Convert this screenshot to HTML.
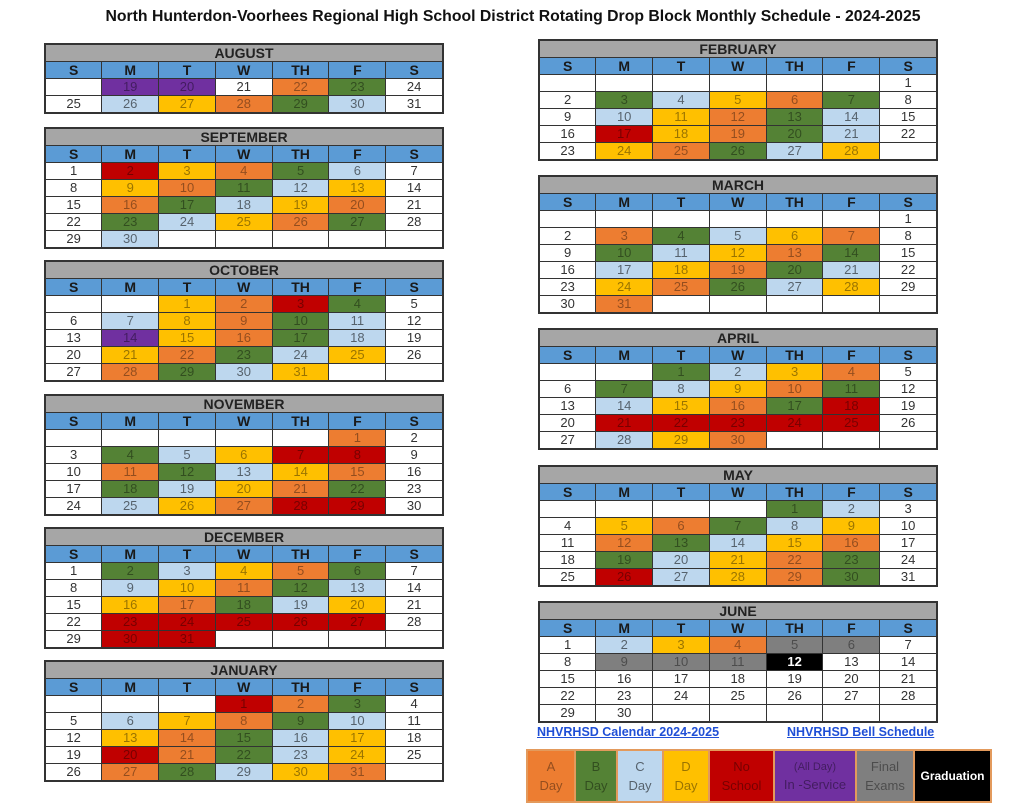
<!DOCTYPE html>
<html><head><meta charset="utf-8"><style>
body{margin:0;width:1014px;height:808px;background:#fff;position:relative;overflow:hidden;font-family:"Liberation Sans",Arial,sans-serif}
.t{position:absolute;border-collapse:collapse;table-layout:fixed;width:400px;border:2px solid #333}
.t td{border:1px solid #333;height:16px;padding:0;line-height:16px;text-align:center;font-size:13px;color:#333;width:57px;overflow:hidden}
.t tr.m td{background:#a6a6a6;font-weight:bold;font-size:14px;color:#222}
.t tr.h td{background:#5b9bd5;font-weight:bold;font-size:14px;color:#1a1a1a}
.a{background:#ed7d31!important;color:rgba(0,0,0,.38)!important}
.b{background:#548235!important;color:rgba(0,0,0,.4)!important}
.c{background:#bdd7ee!important;color:rgba(0,0,0,.55)!important}
.d{background:#ffc000!important;color:rgba(0,0,0,.4)!important}
.n{background:#c00000!important;color:rgba(0,0,0,.38)!important}
.p{background:#7030a0!important;color:rgba(0,0,0,.4)!important}
.f{background:#7f7f7f!important;color:rgba(0,0,0,.4)!important}
.g{background:#000!important;color:#fff!important;font-weight:bold}
.L{left:44px}.R{left:538px}
h1{position:absolute;top:8px;left:6px;width:1014px;margin:0;text-align:center;font-size:15.8px;font-weight:bold;color:#111}
.lk{position:absolute;top:725px;font-size:12.5px;font-weight:bold;color:#1f4fd6;text-decoration:underline}
.lg{position:absolute;left:526px;top:749px;width:462px;height:50px;border:2px solid #e39a5c;display:flex}
.lg div{height:50px;display:flex;align-items:center;justify-content:center;text-align:center;font-size:13px;line-height:19px;border-right:2px solid #e39a5c;box-sizing:border-box}
</style></head><body>
<h1>North Hunterdon-Voorhees Regional High School District Rotating Drop Block Monthly Schedule - 2024-2025</h1>

<table class="t L" style="top:43px"><tr class="m"><td colspan="7">AUGUST</td></tr><tr class="h"><td>S</td><td>M</td><td>T</td><td>W</td><td>TH</td><td>F</td><td>S</td></tr>
<tr><td></td><td class="p">19</td><td class="p">20</td><td>21</td><td class="a">22</td><td class="b">23</td><td>24</td></tr>
<tr><td>25</td><td class="c">26</td><td class="d">27</td><td class="a">28</td><td class="b">29</td><td class="c">30</td><td>31</td></tr></table>

<table class="t L" style="top:127px"><tr class="m"><td colspan="7">SEPTEMBER</td></tr><tr class="h"><td>S</td><td>M</td><td>T</td><td>W</td><td>TH</td><td>F</td><td>S</td></tr>
<tr><td>1</td><td class="n">2</td><td class="d">3</td><td class="a">4</td><td class="b">5</td><td class="c">6</td><td>7</td></tr>
<tr><td>8</td><td class="d">9</td><td class="a">10</td><td class="b">11</td><td class="c">12</td><td class="d">13</td><td>14</td></tr>
<tr><td>15</td><td class="a">16</td><td class="b">17</td><td class="c">18</td><td class="d">19</td><td class="a">20</td><td>21</td></tr>
<tr><td>22</td><td class="b">23</td><td class="c">24</td><td class="d">25</td><td class="a">26</td><td class="b">27</td><td>28</td></tr>
<tr><td>29</td><td class="c">30</td><td></td><td></td><td></td><td></td><td></td></tr></table>

<table class="t L" style="top:260px"><tr class="m"><td colspan="7">OCTOBER</td></tr><tr class="h"><td>S</td><td>M</td><td>T</td><td>W</td><td>TH</td><td>F</td><td>S</td></tr>
<tr><td></td><td></td><td class="d">1</td><td class="a">2</td><td class="n">3</td><td class="b">4</td><td>5</td></tr>
<tr><td>6</td><td class="c">7</td><td class="d">8</td><td class="a">9</td><td class="b">10</td><td class="c">11</td><td>12</td></tr>
<tr><td>13</td><td class="p">14</td><td class="d">15</td><td class="a">16</td><td class="b">17</td><td class="c">18</td><td>19</td></tr>
<tr><td>20</td><td class="d">21</td><td class="a">22</td><td class="b">23</td><td class="c">24</td><td class="d">25</td><td>26</td></tr>
<tr><td>27</td><td class="a">28</td><td class="b">29</td><td class="c">30</td><td class="d">31</td><td></td><td></td></tr></table>

<table class="t L" style="top:394px"><tr class="m"><td colspan="7">NOVEMBER</td></tr><tr class="h"><td>S</td><td>M</td><td>T</td><td>W</td><td>TH</td><td>F</td><td>S</td></tr>
<tr><td></td><td></td><td></td><td></td><td></td><td class="a">1</td><td>2</td></tr>
<tr><td>3</td><td class="b">4</td><td class="c">5</td><td class="d">6</td><td class="n">7</td><td class="n">8</td><td>9</td></tr>
<tr><td>10</td><td class="a">11</td><td class="b">12</td><td class="c">13</td><td class="d">14</td><td class="a">15</td><td>16</td></tr>
<tr><td>17</td><td class="b">18</td><td class="c">19</td><td class="d">20</td><td class="a">21</td><td class="b">22</td><td>23</td></tr>
<tr><td>24</td><td class="c">25</td><td class="d">26</td><td class="a">27</td><td class="n">28</td><td class="n">29</td><td>30</td></tr></table>

<table class="t L" style="top:527px"><tr class="m"><td colspan="7">DECEMBER</td></tr><tr class="h"><td>S</td><td>M</td><td>T</td><td>W</td><td>TH</td><td>F</td><td>S</td></tr>
<tr><td>1</td><td class="b">2</td><td class="c">3</td><td class="d">4</td><td class="a">5</td><td class="b">6</td><td>7</td></tr>
<tr><td>8</td><td class="c">9</td><td class="d">10</td><td class="a">11</td><td class="b">12</td><td class="c">13</td><td>14</td></tr>
<tr><td>15</td><td class="d">16</td><td class="a">17</td><td class="b">18</td><td class="c">19</td><td class="d">20</td><td>21</td></tr>
<tr><td>22</td><td class="n">23</td><td class="n">24</td><td class="n">25</td><td class="n">26</td><td class="n">27</td><td>28</td></tr>
<tr><td>29</td><td class="n">30</td><td class="n">31</td><td></td><td></td><td></td><td></td></tr></table>

<table class="t L" style="top:660px"><tr class="m"><td colspan="7">JANUARY</td></tr><tr class="h"><td>S</td><td>M</td><td>T</td><td>W</td><td>TH</td><td>F</td><td>S</td></tr>
<tr><td></td><td></td><td></td><td class="n">1</td><td class="a">2</td><td class="b">3</td><td>4</td></tr>
<tr><td>5</td><td class="c">6</td><td class="d">7</td><td class="a">8</td><td class="b">9</td><td class="c">10</td><td>11</td></tr>
<tr><td>12</td><td class="d">13</td><td class="a">14</td><td class="b">15</td><td class="c">16</td><td class="d">17</td><td>18</td></tr>
<tr><td>19</td><td class="n">20</td><td class="a">21</td><td class="b">22</td><td class="c">23</td><td class="d">24</td><td>25</td></tr>
<tr><td>26</td><td class="a">27</td><td class="b">28</td><td class="c">29</td><td class="d">30</td><td class="a">31</td><td></td></tr></table>

<table class="t R" style="top:39px"><tr class="m"><td colspan="7">FEBRUARY</td></tr><tr class="h"><td>S</td><td>M</td><td>T</td><td>W</td><td>TH</td><td>F</td><td>S</td></tr>
<tr><td></td><td></td><td></td><td></td><td></td><td></td><td>1</td></tr>
<tr><td>2</td><td class="b">3</td><td class="c">4</td><td class="d">5</td><td class="a">6</td><td class="b">7</td><td>8</td></tr>
<tr><td>9</td><td class="c">10</td><td class="d">11</td><td class="a">12</td><td class="b">13</td><td class="c">14</td><td>15</td></tr>
<tr><td>16</td><td class="n">17</td><td class="d">18</td><td class="a">19</td><td class="b">20</td><td class="c">21</td><td>22</td></tr>
<tr><td>23</td><td class="d">24</td><td class="a">25</td><td class="b">26</td><td class="c">27</td><td class="d">28</td><td></td></tr></table>

<table class="t R" style="top:175px"><tr class="m"><td colspan="7">MARCH</td></tr><tr class="h"><td>S</td><td>M</td><td>T</td><td>W</td><td>TH</td><td>F</td><td>S</td></tr>
<tr><td></td><td></td><td></td><td></td><td></td><td></td><td>1</td></tr>
<tr><td>2</td><td class="a">3</td><td class="b">4</td><td class="c">5</td><td class="d">6</td><td class="a">7</td><td>8</td></tr>
<tr><td>9</td><td class="b">10</td><td class="c">11</td><td class="d">12</td><td class="a">13</td><td class="b">14</td><td>15</td></tr>
<tr><td>16</td><td class="c">17</td><td class="d">18</td><td class="a">19</td><td class="b">20</td><td class="c">21</td><td>22</td></tr>
<tr><td>23</td><td class="d">24</td><td class="a">25</td><td class="b">26</td><td class="c">27</td><td class="d">28</td><td>29</td></tr>
<tr><td>30</td><td class="a">31</td><td></td><td></td><td></td><td></td><td></td></tr></table>

<table class="t R" style="top:328px"><tr class="m"><td colspan="7">APRIL</td></tr><tr class="h"><td>S</td><td>M</td><td>T</td><td>W</td><td>TH</td><td>F</td><td>S</td></tr>
<tr><td></td><td></td><td class="b">1</td><td class="c">2</td><td class="d">3</td><td class="a">4</td><td>5</td></tr>
<tr><td>6</td><td class="b">7</td><td class="c">8</td><td class="d">9</td><td class="a">10</td><td class="b">11</td><td>12</td></tr>
<tr><td>13</td><td class="c">14</td><td class="d">15</td><td class="a">16</td><td class="b">17</td><td class="n">18</td><td>19</td></tr>
<tr><td>20</td><td class="n">21</td><td class="n">22</td><td class="n">23</td><td class="n">24</td><td class="n">25</td><td>26</td></tr>
<tr><td>27</td><td class="c">28</td><td class="d">29</td><td class="a">30</td><td></td><td></td><td></td></tr></table>

<table class="t R" style="top:465px"><tr class="m"><td colspan="7">MAY</td></tr><tr class="h"><td>S</td><td>M</td><td>T</td><td>W</td><td>TH</td><td>F</td><td>S</td></tr>
<tr><td></td><td></td><td></td><td></td><td class="b">1</td><td class="c">2</td><td>3</td></tr>
<tr><td>4</td><td class="d">5</td><td class="a">6</td><td class="b">7</td><td class="c">8</td><td class="d">9</td><td>10</td></tr>
<tr><td>11</td><td class="a">12</td><td class="b">13</td><td class="c">14</td><td class="d">15</td><td class="a">16</td><td>17</td></tr>
<tr><td>18</td><td class="b">19</td><td class="c">20</td><td class="d">21</td><td class="a">22</td><td class="b">23</td><td>24</td></tr>
<tr><td>25</td><td class="n">26</td><td class="c">27</td><td class="d">28</td><td class="a">29</td><td class="b">30</td><td>31</td></tr></table>

<table class="t R" style="top:601px"><tr class="m"><td colspan="7">JUNE</td></tr><tr class="h"><td>S</td><td>M</td><td>T</td><td>W</td><td>TH</td><td>F</td><td>S</td></tr>
<tr><td>1</td><td class="c">2</td><td class="d">3</td><td class="a">4</td><td class="f">5</td><td class="f">6</td><td>7</td></tr>
<tr><td>8</td><td class="f">9</td><td class="f">10</td><td class="f">11</td><td class="g">12</td><td>13</td><td>14</td></tr>
<tr><td>15</td><td>16</td><td>17</td><td>18</td><td>19</td><td>20</td><td>21</td></tr>
<tr><td>22</td><td>23</td><td>24</td><td>25</td><td>26</td><td>27</td><td>28</td></tr>
<tr><td>29</td><td>30</td><td></td><td></td><td></td><td></td><td></td></tr></table>

<div class="lk" style="left:537px">NHVRHSD Calendar 2024-2025</div>
<div class="lk" style="left:787px">NHVRHSD Bell Schedule</div>

<div class="lg">
<div class="a" style="width:48px">A<br>Day</div>
<div class="b" style="width:42px">B<br>Day</div>
<div class="c" style="width:46px">C<br>Day</div>
<div class="d" style="width:46px">D<br>Day</div>
<div class="n" style="width:65px">No<br>School</div>
<div class="p" style="width:82px;flex-direction:column;line-height:17px"><span style="font-size:11px">(All Day)</span><span>In -Service</span></div>
<div class="f" style="width:58px">Final<br>Exams</div>
<div class="g" style="width:75px;border-right:none;font-size:12px">Graduation</div>
</div>
</body></html>
